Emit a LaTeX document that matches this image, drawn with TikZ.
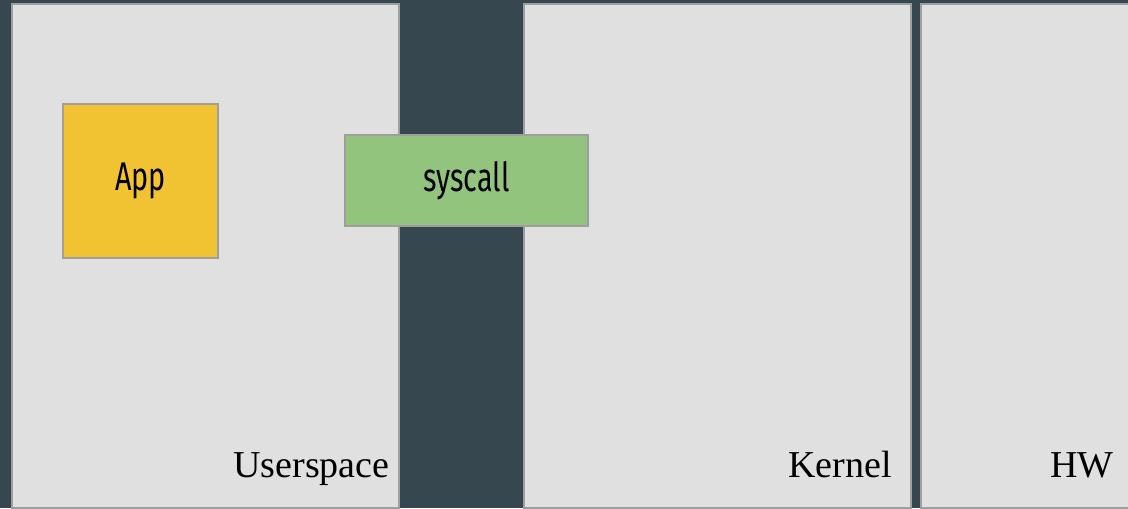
\documentclass[tikz,border=0pt]{standalone}
\usepackage{fontspec}
\setmainfont{Liberation Serif}
\newfontfamily\boxfont{Fira Sans}
\usepackage{tikz}
\usetikzlibrary{positioning}
\definecolor{slate}{HTML}{37474F}
\definecolor{panelgray}{HTML}{E0E0E0}
\definecolor{edgegray}{HTML}{9E9E9E}
\definecolor{appyellow}{HTML}{F1C232}
\definecolor{callgreen}{HTML}{93C47D}
\newcommand{\narrowtxt}[1]{\scalebox{0.72}[1]{#1}}

\begin{document}
\begin{tikzpicture}[x=0.5pt, y=-0.5pt,
  panel/.style={draw=edgegray, line width=1pt, fill=panelgray, inner sep=0, minimum height=251.5pt},
  tag/.style={font=\fontsize{19}{22}\selectfont, inner sep=0, anchor=base east},
  blk/.style={draw=edgegray, line width=1pt, inner sep=0, font=\boxfont\fontsize{20}{24}\selectfont}
]
\useasboundingbox (0,0) rectangle (1128,508);
\clip (0,0) rectangle (1128,508);
\fill[slate] (0,0) rectangle (1128,508);
% the three layers
\node[panel, minimum width=193.5pt] (user) at (205,256) {};
\node[panel, minimum width=193.5pt] (kern) at (717,256) {};
\node[panel, minimum width=110pt] (hw) at (1030.5,256) {};
\node[tag] (usertag) at ([xshift=-4.75pt,yshift=15.5pt]user.south east) {Userspace};
\node[tag] (kerntag) at ([xshift=-9.75pt,yshift=15.5pt]kern.south east) {Kernel};
\node[tag] (hwtag) at (1114,477) {HW};
% boxes
\node[blk, fill=appyellow, minimum width=77.5pt, minimum height=77pt] (app) at (140.5,181) {\narrowtxt{App}};
\node[blk, fill=callgreen, minimum width=121.5pt, minimum height=45.5pt] (syscall) at (466.5,180.5) {\narrowtxt{syscall}};
\end{tikzpicture}
\end{document}
